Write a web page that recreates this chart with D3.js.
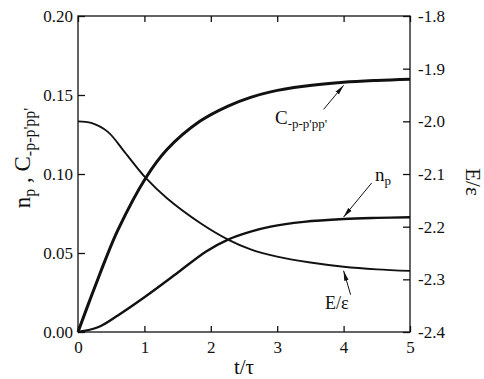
<!DOCTYPE html>
<html>
<head>
<meta charset="utf-8">
<script src="https://cdn.jsdelivr.net/npm/d3@7"></script>
<style>
  html, body { margin: 0; padding: 0; background: #fff; }
  svg text { font-family: "Liberation Serif", "Times New Roman", "DejaVu Serif", serif; }
</style>
</head>
<body>
<svg id="chart" width="484" height="379"></svg>
<script>
// Fraction C_{-p-p'pp'} versus t/tau (left axis)
const tC = [0, 0.15, 0.3, 0.41, 0.6, 1.02, 1.34, 1.84, 2.26, 2.6, 2.9, 3.4, 4, 4.5, 5];
const cValues = [0, 0.017, 0.0335, 0.0455, 0.0645, 0.0975, 0.1155, 0.1335, 0.143, 0.1485, 0.152, 0.1555, 0.158, 0.1592, 0.160];
// Occupation n_p versus t/tau (left axis)
const tNp = [0, 0.3, 0.6, 1, 1.5, 1.93, 2.26, 2.6, 2.9, 3.4, 4, 4.5, 5];
const npValues = [0, 0.003, 0.0105, 0.022, 0.0375, 0.051, 0.0585, 0.0635, 0.0667, 0.0697, 0.0715, 0.0722, 0.0726];
// Energy per particle E/epsilon versus t/tau (right axis)
const tE = [0, 0.2, 0.45, 0.7, 1.02, 1.34, 1.84, 2.26, 2.6, 3, 3.5, 4, 4.5, 5];
const eValues = [-2.0, -2.003, -2.02, -2.058, -2.1075, -2.146, -2.193, -2.2245, -2.243, -2.257, -2.268, -2.276, -2.281, -2.284];

const xTicks = [0, 1, 2, 3, 4, 5];
const leftTicks = [0, 0.05, 0.10, 0.15, 0.20];
const rightTicks = [-2.4, -2.3, -2.2, -2.1, -2.0, -1.9, -1.8];

const svg = d3.select("#chart");
const L = 78, R = 410, T = 16, B = 332;
const FONT = '"Liberation Serif", "Times New Roman", "DejaVu Serif", serif';

const x = d3.scaleLinear().domain([0, 5]).range([L, R]);
const yL = d3.scaleLinear().domain([0, 0.2]).range([B, T]);
const yR = d3.scaleLinear().domain([-2.4, -1.8]).range([B, T]);

const ink = "#111";

// Frame
svg.append("rect")
  .attr("x", L).attr("y", T).attr("width", R - L).attr("height", B - T)
  .attr("fill", "none").attr("stroke", ink).attr("stroke-width", 1.3);

function styleAxis(g, size) {
  g.attr("font-family", null);
  g.select(".domain").remove();
  g.selectAll(".tick line").attr("stroke", ink).attr("stroke-width", 1.3);
  g.selectAll(".tick text").attr("fill", ink).attr("font-size", size);
}

// Bottom axis
svg.append("g").attr("transform", `translate(0,${B})`)
  .call(d3.axisBottom(x).tickValues(xTicks).tickFormat(d3.format("d"))
    .tickSizeInner(-6).tickSizeOuter(0).tickPadding(9))
  .call(g => styleAxis(g, 17));

// Top axis (ticks only)
svg.append("g").attr("transform", `translate(0,${T})`)
  .call(d3.axisTop(x).tickValues(xTicks).tickFormat("")
    .tickSizeInner(-6).tickSizeOuter(0))
  .call(g => styleAxis(g, 17));

// Left axis
svg.append("g").attr("transform", `translate(${L},0)`)
  .call(d3.axisLeft(yL).tickValues(leftTicks).tickFormat(d3.format(".2f"))
    .tickSizeInner(-7).tickSizeOuter(0).tickPadding(5))
  .call(g => styleAxis(g, 17));

// Right axis
svg.append("g").attr("transform", `translate(${R},0)`)
  .call(d3.axisRight(yR).tickValues(rightTicks).tickFormat(d => d.toFixed(1))
    .tickSizeInner(-7).tickSizeOuter(0).tickPadding(8))
  .call(g => styleAxis(g, 17));

// Curves
const curve = d3.curveCatmullRom.alpha(0.5);
const mkLine = (ts, y) => d3.line().x((d, i) => x(ts[i])).y(d => y(d)).curve(curve);

svg.append("path").attr("d", mkLine(tE, yR)(eValues))
  .attr("fill", "none").attr("stroke", ink).attr("stroke-width", 1.9);
svg.append("path").attr("d", mkLine(tNp, yL)(npValues))
  .attr("fill", "none").attr("stroke", ink).attr("stroke-width", 2.4);
svg.append("path").attr("d", mkLine(tC, yL)(cValues))
  .attr("fill", "none").attr("stroke", ink).attr("stroke-width", 3);

// Arrow heads
svg.append("defs").append("marker")
  .attr("id", "arr").attr("viewBox", "0 0 10 6").attr("refX", 10).attr("refY", 3)
  .attr("markerWidth", 10).attr("markerHeight", 6).attr("markerUnits", "userSpaceOnUse")
  .attr("orient", "auto")
  .append("path").attr("d", "M0,0.8 L10,3 L0,5.2 Z").attr("fill", ink);

// Annotation arrows: tip just off the curve at t, tail offset in pixels
const arrows = [
  { t: 4.0, y: yL(cValues[12]) + 3, dx: -20, dy: 24 },
  { t: 4.0, y: yL(npValues[10]) - 2, dx: 28, dy: -34 },
  { t: 4.0, y: yR(eValues[11]) + 4, dx: 7, dy: 24 }
];
arrows.forEach(a => {
  const x1 = x(a.t);
  svg.append("line")
    .attr("x1", x1 + a.dx).attr("y1", a.y + a.dy)
    .attr("x2", x1).attr("y2", a.y)
    .attr("stroke", ink).attr("stroke-width", 1)
    .attr("marker-end", "url(#arr)");
});

// Curve labels
const cLab = svg.append("text").attr("x", 275).attr("y", 124)
  .attr("font-size", 19).attr("fill", ink);
cLab.append("tspan").text("C");
cLab.append("tspan").attr("font-size", 13).attr("dy", 4).text("-p-p'pp'");

const nLab = svg.append("text").attr("x", 375).attr("y", 181)
  .attr("font-size", 19).attr("fill", ink);
nLab.append("tspan").text("n");
nLab.append("tspan").attr("font-size", 13).attr("dy", 4).text("p");

svg.append("text").attr("x", 325).attr("y", 309)
  .attr("font-size", 18).attr("fill", ink).text("E/ε");

// Axis titles
svg.append("text").attr("x", (L + R) / 2).attr("y", 374)
  .attr("text-anchor", "middle").attr("font-size", 21).attr("fill", ink).text("t/τ");

const yt = svg.append("text")
  .attr("transform", `translate(30,158) rotate(-90)`)
  .attr("text-anchor", "middle").attr("font-size", 23).attr("fill", ink);
yt.append("tspan").text("n");
yt.append("tspan").attr("font-size", 16).attr("dy", 5).text("p");
yt.append("tspan").attr("dy", -5).text(" , C");
yt.append("tspan").attr("font-size", 16).attr("dy", 5).text("-p-p'pp'");

svg.append("text")
  .attr("transform", `translate(466,182) rotate(90)`)
  .attr("text-anchor", "middle").attr("font-size", 21).attr("fill", ink).text("E/ε");

svg.selectAll("text").style("font-family", FONT);
</script>
</body>
</html>
